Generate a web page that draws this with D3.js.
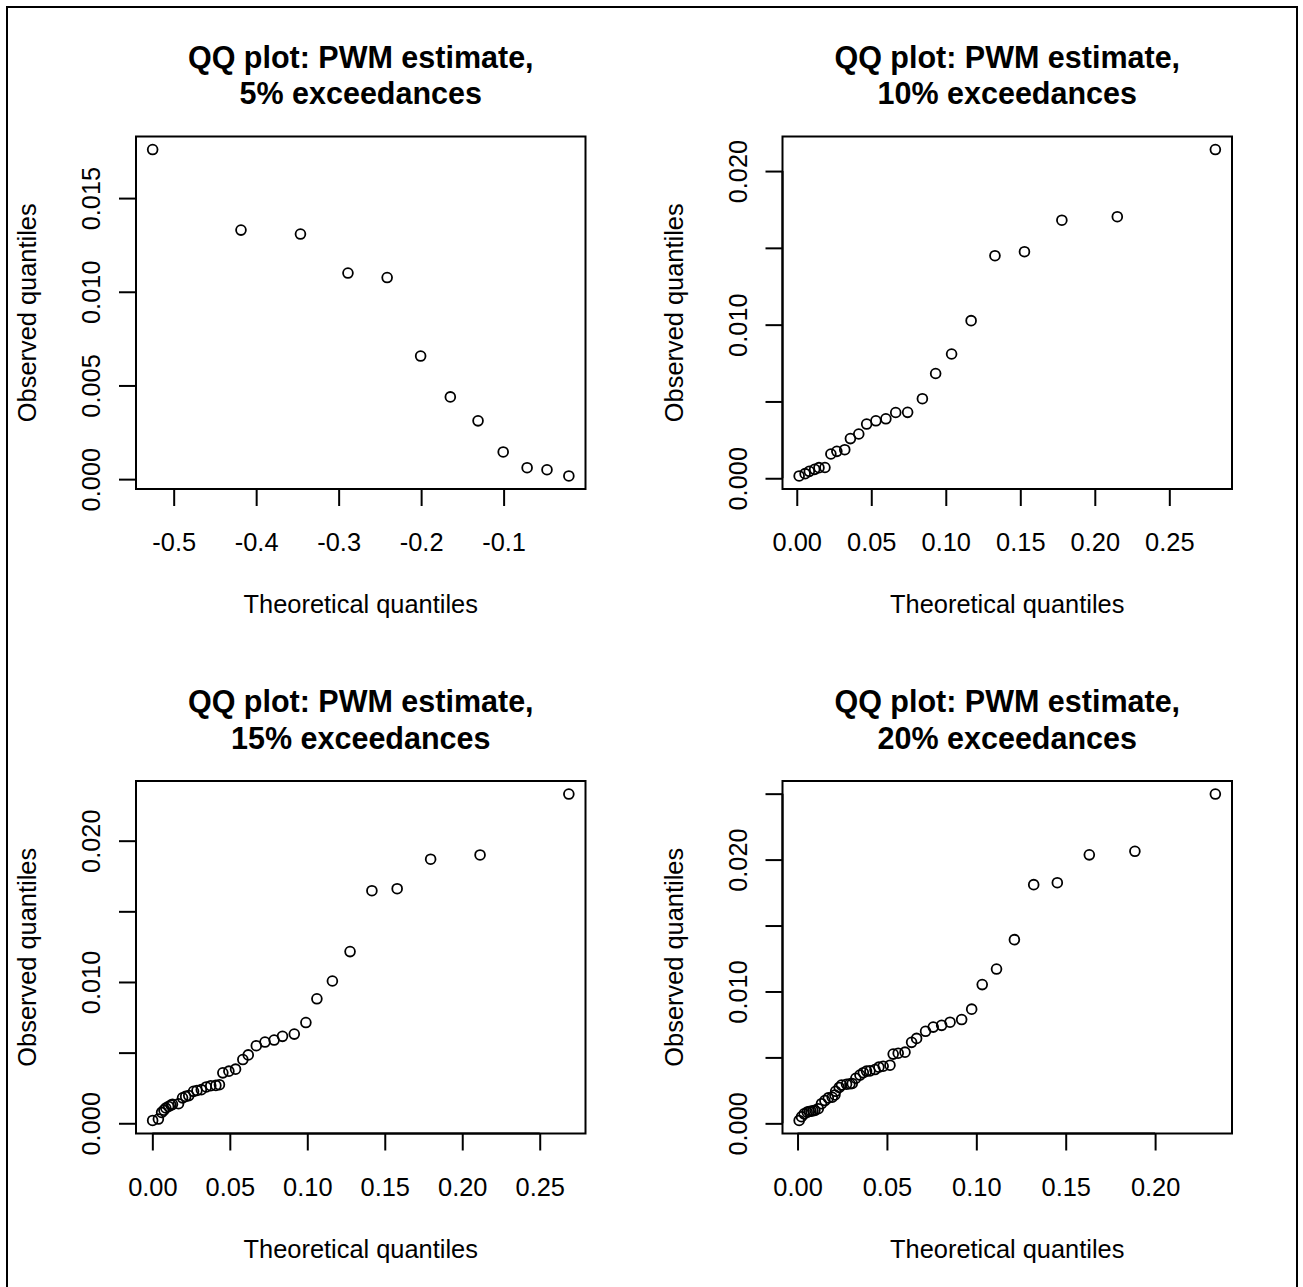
<!DOCTYPE html>
<html>
<head>
<meta charset="utf-8">
<script src="https://cdn.jsdelivr.net/npm/d3@7"></script>
<style>
  html, body { margin: 0; padding: 0; background: #ffffff; }
  svg { display: block; }
  text { font-family: "Liberation Sans", Arial, Helvetica, sans-serif; fill: #000; }
</style>
</head>
<body>
<script>
// ---------------- data ----------------
const titleLine1 = "QQ plot: PWM estimate,";
const exceedLabels = ["5% exceedances", "10% exceedances", "15% exceedances", "20% exceedances"];
const xAxisTitle = "Theoretical quantiles";
const yAxisTitle = "Observed quantiles";

// 5% exceedances
const x1 = [-0.5255, -0.4184, -0.3463, -0.2887, -0.2412, -0.2006, -0.1646, -0.1310, -0.1005, -0.0715, -0.0474, -0.0209];
const y1 = [0.01759, 0.01329, 0.01308, 0.01100, 0.01076, 0.00657, 0.00439, 0.00311, 0.00145, 0.00061, 0.00050, 0.00017];

// 10% exceedances
const x2 = [0.0016, 0.0056, 0.0084, 0.0120, 0.0149, 0.0189, 0.0229, 0.0269, 0.0322, 0.0360, 0.0416, 0.0469, 0.0531,
            0.0598, 0.0664, 0.0744, 0.0843, 0.0932, 0.1039, 0.1170, 0.1330, 0.1528, 0.1779, 0.2151, 0.2809];
const y2 = [0.00015, 0.00030, 0.00045, 0.00058, 0.00069, 0.00070, 0.00158, 0.00175, 0.00186, 0.00258, 0.00288, 0.00353, 0.00374,
            0.00387, 0.00428, 0.00429, 0.00518, 0.00682, 0.00809, 0.01026, 0.01449, 0.01475, 0.01680, 0.01703, 0.02140];

// 15% exceedances
const x3 = [0.0002, 0.0039, 0.0060, 0.0075, 0.0087, 0.0105, 0.0120, 0.0130, 0.0169, 0.0195, 0.0215, 0.0235, 0.0266,
            0.0288, 0.0316, 0.0348, 0.0377, 0.0410, 0.0433, 0.0455, 0.0494, 0.0537, 0.0584, 0.0619, 0.0671, 0.0727,
            0.0786, 0.0840, 0.0916, 0.0991, 0.1062, 0.1162, 0.1276, 0.1417, 0.1580, 0.1796, 0.2115, 0.2688];
const y3 = [0.00020, 0.00030, 0.00077, 0.00093, 0.00108, 0.00119, 0.00129, 0.00134, 0.00138, 0.00180, 0.00190, 0.00196, 0.00226,
            0.00232, 0.00238, 0.00257, 0.00266, 0.00268, 0.00273, 0.00357, 0.00369, 0.00383, 0.00451, 0.00484, 0.00549, 0.00575,
            0.00589, 0.00615, 0.00631, 0.00713, 0.00881, 0.01007, 0.01215, 0.01646, 0.01660, 0.01869, 0.01899, 0.02330];

// 20% exceedances
const x4 = [0.0009, 0.0022, 0.0037, 0.0054, 0.0065, 0.0075, 0.0086, 0.0097, 0.0116, 0.0134, 0.0153, 0.0172, 0.0194, 0.0209,
            0.0213, 0.0233, 0.0246, 0.0274, 0.0293, 0.0306, 0.0326, 0.0349, 0.0368, 0.0386, 0.0405, 0.0433, 0.0455, 0.0479,
            0.0517, 0.0535, 0.0563, 0.0601, 0.0638, 0.0666, 0.0716, 0.0759, 0.0806, 0.0853, 0.0918, 0.0974, 0.1033, 0.1113,
            0.1213, 0.1321, 0.1453, 0.1632, 0.1887, 0.2337];
const y4 = [0.00022, 0.00050, 0.00072, 0.00085, 0.00090, 0.00092, 0.00095, 0.00099, 0.00111, 0.00149, 0.00173, 0.00193, 0.00198, 0.00215,
            0.00243, 0.00272, 0.00290, 0.00297, 0.00300, 0.00302, 0.00342, 0.00366, 0.00384, 0.00396, 0.00398, 0.00408, 0.00426, 0.00433,
            0.00441, 0.00525, 0.00532, 0.00540, 0.00614, 0.00644, 0.00698, 0.00730, 0.00743, 0.00767, 0.00787, 0.00866, 0.01052, 0.01170,
            0.01393, 0.01810, 0.01825, 0.02036, 0.02063, 0.02497];

// ticks
const xTicks1 = [-0.5, -0.4, -0.3, -0.2, -0.1];
const yTicks1 = [0, 0.005, 0.010, 0.015];
const yLabels1 = [0, 0.005, 0.010, 0.015];
const xTicks2 = [0, 0.05, 0.10, 0.15, 0.20, 0.25];
const yTicks2 = [0, 0.005, 0.010, 0.015, 0.020];
const yLabels2 = [0, 0.010, 0.020];
const xTicks3 = [0, 0.05, 0.10, 0.15, 0.20, 0.25];
const yTicks3 = [0, 0.005, 0.010, 0.015, 0.020];
const yLabels3 = [0, 0.010, 0.020];
const xTicks4 = [0, 0.05, 0.10, 0.15, 0.20];
const yTicks4 = [0, 0.005, 0.010, 0.015, 0.020, 0.025];
const yLabels4 = [0, 0.010, 0.020];

// ---------------- layout ----------------
const W = 1303, H = 1287;
const colLeft = [136, 782.5], rowTop = [136.5, 781];
const boxW = 449.5, boxH = 352.5;

const panels = [
  { xs: x1, ys: y1, xt: xTicks1, yt: yTicks1, yl: yLabels1, xDec: 1, sub: exceedLabels[0], col: 0, row: 0 },
  { xs: x2, ys: y2, xt: xTicks2, yt: yTicks2, yl: yLabels2, xDec: 2, sub: exceedLabels[1], col: 1, row: 0 },
  { xs: x3, ys: y3, xt: xTicks3, yt: yTicks3, yl: yLabels3, xDec: 2, sub: exceedLabels[2], col: 0, row: 1 },
  { xs: x4, ys: y4, xt: xTicks4, yt: yTicks4, yl: yLabels4, xDec: 2, sub: exceedLabels[3], col: 1, row: 1 }
];

const svg = d3.select("body").append("svg")
  .attr("width", W).attr("height", H)
  .attr("viewBox", `0 0 ${W} ${H}`);

svg.append("rect").attr("width", W).attr("height", H).attr("fill", "#fff");

// outer border
svg.append("rect")
  .attr("x", 7).attr("y", 7).attr("width", 1290).attr("height", 1300)
  .attr("fill", "none").attr("stroke", "#000").attr("stroke-width", 2);

function padded(arr) {
  const [lo, hi] = d3.extent(arr);
  const r = hi - lo;
  return [lo - 0.04 * r, hi + 0.04 * r];
}

const FS = 25.4;

panels.forEach(p => {
  const L = colLeft[p.col], T = rowTop[p.row];
  const R = L + boxW, B = T + boxH;
  const xs = d3.scaleLinear().domain(padded(p.xs)).range([L, R]);
  const ys = d3.scaleLinear().domain(padded(p.ys)).range([B, T]);

  const g = svg.append("g");

  // title
  const cx = (L + R) / 2;
  g.append("text").attr("x", cx).attr("y", T - 69)
    .attr("text-anchor", "middle").attr("font-weight", "bold").attr("font-size", 30.5)
    .text(titleLine1);
  g.append("text").attr("x", cx).attr("y", T - 32.5)
    .attr("text-anchor", "middle").attr("font-weight", "bold").attr("font-size", 30.5)
    .text(p.sub);

  // x axis
  const xa = g.append("g").attr("transform", `translate(0,${B})`)
    .call(d3.axisBottom(xs).tickValues(p.xt).tickSizeOuter(0).tickSize(17)
      .tickFormat(v => v.toFixed(p.xDec)));
  xa.select(".domain").attr("d", `M${xs(p.xt[0])},0H${xs(p.xt[p.xt.length - 1])}`)
    .attr("stroke", "#000").attr("stroke-width", 2);
  xa.selectAll(".tick line").attr("stroke", "#000").attr("stroke-width", 2);
  xa.selectAll(".tick text").attr("y", 62).attr("dy", 0)
    .attr("font-size", FS).attr("font-family", "Liberation Sans, Arial, sans-serif").attr("fill", "#000");

  // y axis
  const ya = g.append("g").attr("transform", `translate(${L},0)`)
    .call(d3.axisLeft(ys).tickValues(p.yt).tickSizeOuter(0).tickSize(17)
      .tickFormat(v => p.yl.some(l => Math.abs(l - v) < 1e-9) ? v.toFixed(3) : ""));
  ya.select(".domain").attr("d", `M0,${ys(p.yt[0])}V${ys(p.yt[p.yt.length - 1])}`)
    .attr("stroke", "#000").attr("stroke-width", 2);
  ya.selectAll(".tick line").attr("stroke", "#000").attr("stroke-width", 2);
  ya.selectAll(".tick text")
    .attr("x", null).attr("dy", null)
    .attr("text-anchor", "middle")
    .attr("transform", "translate(-36,0) rotate(-90)")
    .attr("font-size", FS).attr("font-family", "Liberation Sans, Arial, sans-serif").attr("fill", "#000");

  // box
  g.append("rect").attr("x", L).attr("y", T).attr("width", boxW).attr("height", boxH)
    .attr("fill", "none").attr("stroke", "#000").attr("stroke-width", 2);

  // axis titles
  g.append("text").attr("x", cx).attr("y", B + 124)
    .attr("text-anchor", "middle").attr("font-size", FS).text(xAxisTitle);
  g.append("text")
    .attr("transform", `translate(${L - 100},${(T + B) / 2}) rotate(-90)`)
    .attr("text-anchor", "middle").attr("font-size", FS).text(yAxisTitle);

  // points
  const pts = p.xs.map((x, i) => ({ x, y: p.ys[i] }));
  g.append("g").selectAll("circle").data(pts).enter().append("circle")
    .attr("cx", d => xs(d.x)).attr("cy", d => ys(d.y))
    .attr("r", 4.9).attr("fill", "none").attr("stroke", "#000").attr("stroke-width", 1.8);
});
</script>
</body>
</html>
